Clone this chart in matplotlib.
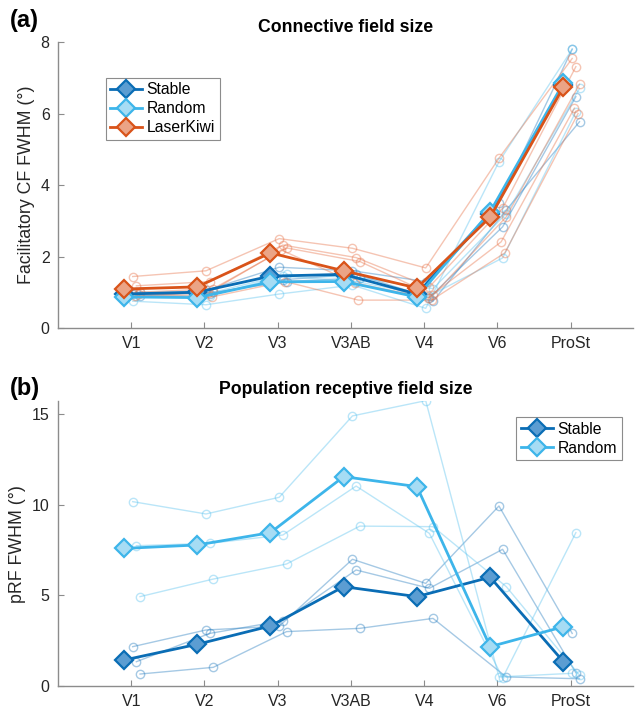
import matplotlib
matplotlib.use("Agg")
import matplotlib.pyplot as plt
import numpy as np

plt.rcParams['font.family'] = ['Liberation Sans', 'DejaVu Sans']

areas = ['V1', 'V2', 'V3', 'V3AB', 'V4', 'V6', 'ProSt']

# ---- Panel (a): connective field size (means) ----
cf_stable_mean = [0.95, 1.00, 1.45, 1.50, 0.95, 3.20, 6.80]
cf_random_mean = [0.87, 0.85, 1.29, 1.30, 0.87, 3.25, 6.85]
cf_laser_mean = [1.09, 1.15, 2.10, 1.60, 1.12, 3.10, 6.74]

# individual subjects (panel a)
cf_stable_subj = [
    [0.95, 1.05, 1.70, 1.60, 1.30, 3.50, 7.80],
    [1.00, 0.95, 1.35, 1.50, 0.85, 2.83, 6.47],
    [0.90, 1.00, 1.30, 1.40, 0.75, 3.30, 5.77],
]
cf_random_subj = [
    [0.75, 0.65, 0.95, 1.20, 0.55, 4.65, 7.80],
    [0.90, 0.90, 1.45, 1.30, 0.90, 1.96, 6.05],
    [1.00, 1.00, 1.50, 1.40, 1.10, 3.20, 6.70],
]
cf_laser_subj = [
    [1.44, 1.60, 2.50, 2.23, 1.68, 4.75, 7.54],
    [1.18, 1.30, 2.32, 1.97, 1.15, 3.35, 7.31],
    [1.00, 1.10, 2.24, 1.86, 0.92, 3.11, 6.82],
    [0.90, 0.98, 2.18, 1.26, 0.84, 2.41, 6.15],
    [0.95, 0.87, 1.30, 0.78, 0.78, 2.10, 6.00],
]

# ---- Panel (b): pRF size ----
prf_stable_mean = [1.43, 2.30, 3.31, 5.48, 4.93, 6.00, 1.34]
prf_random_mean = [7.59, 7.78, 8.46, 11.55, 11.00, 2.17, 3.27]
prf_stable_subj = [
    [2.17, 3.09, 3.30, 6.99, 5.66, 9.93, 2.90],
    [1.34, 2.90, 3.60, 6.40, 5.39, 7.54, 0.73],
    [0.66, 1.03, 3.00, 3.18, 3.73, 0.50, 0.40],
]
prf_random_subj = [
    [10.17, 9.49, 10.41, 14.90, 15.74, 0.50, 0.70],
    [7.74, 7.87, 8.33, 11.03, 8.42, 0.45, 8.46],
    [4.93, 5.90, 6.73, 8.82, 8.79, 5.48, 0.60],
]

# styles
C_STABLE = '#0a6db5'
F_STABLE = '#5b9dd2'
C_RANDOM = '#3db5ea'
F_RANDOM = '#a6dcf4'
C_LASER = '#d95319'
F_LASER = '#eba486'
SUBJ_STABLE = '#2a7fc0'
SUBJ_RANDOM = '#5cc3ef'
SUBJ_LASER = '#e8744a'
SPINE = '#8c8c8c'
TXT = '#262626'

x = np.arange(1, len(areas) + 1)
mean_off = -0.1
jit = [0.02, 0.07, 0.12, 0.05, 0.10]

W, H = 639, 710
fig = plt.figure(figsize=(W / 100, H / 100), dpi=100)

def px_axes(left, right, top, bottom):
    return fig.add_axes([left / W, 1 - bottom / H, (right - left) / W, (bottom - top) / H])

ax1 = px_axes(58, 633, 42, 328)
ax2 = px_axes(58, 633, 401.4, 686)

def style(ax):
    for s in ['top', 'right']:
        ax.spines[s].set_visible(False)
    for s in ['left', 'bottom']:
        ax.spines[s].set_color(SPINE)
        ax.spines[s].set_linewidth(1.0)
    ax.tick_params(direction='in', length=4, color=SPINE, labelsize=11.5,
                   labelcolor=TXT, width=0.8, pad=6)
    ax.set_xticks(x)
    ax.set_xticklabels(areas)
    ax.set_xlim(0, 7.85)

def draw_subj(ax, subj, color, alpha=0.42):
    for i, s in enumerate(subj):
        ax.plot(x + jit[i % len(jit)], s, '-o', color=color, lw=1.0, alpha=alpha,
                markersize=6, markerfacecolor='none', markeredgewidth=1.0)

def draw_mean(ax, m, edge, face, label):
    ax.plot(x + mean_off, m, '-D', color=edge, lw=2.0, markersize=9,
            markerfacecolor=face, markeredgecolor=edge, markeredgewidth=1.6,
            label=label, zorder=5)

def legend(ax, **kw):
    lg = ax.legend(borderaxespad=0, fontsize=11.3, frameon=True, fancybox=False,
                   framealpha=1, edgecolor=SPINE, handlelength=2.0,
                   handletextpad=0.3, borderpad=0.3, labelspacing=0.25,
                   numpoints=1, **kw)
    lg.get_frame().set_linewidth(0.8)
    return lg

# panel a
style(ax1)
draw_subj(ax1, cf_stable_subj, SUBJ_STABLE)
draw_subj(ax1, cf_random_subj, SUBJ_RANDOM)
draw_subj(ax1, cf_laser_subj, SUBJ_LASER)
draw_mean(ax1, cf_stable_mean, C_STABLE, F_STABLE, 'Stable')
draw_mean(ax1, cf_random_mean, C_RANDOM, F_RANDOM, 'Random')
draw_mean(ax1, cf_laser_mean, C_LASER, F_LASER, 'LaserKiwi')
ax1.set_ylim(0, 8)
ax1.set_yticks([0, 2, 4, 6, 8])
ax1.set_ylabel('Facilitatory CF FWHM (°)', fontsize=12.8, color=TXT, labelpad=4)
ax1.set_title('Connective field size', fontsize=12.7, fontweight='bold', pad=7)
legend(ax1, loc='upper left', bbox_to_anchor=(0.083, 0.875))

# panel b
style(ax2)
draw_subj(ax2, prf_stable_subj, SUBJ_STABLE)
draw_subj(ax2, prf_random_subj, SUBJ_RANDOM)
draw_mean(ax2, prf_stable_mean, C_STABLE, F_STABLE, 'Stable')
draw_mean(ax2, prf_random_mean, C_RANDOM, F_RANDOM, 'Random')
ax2.set_ylim(0, 15.7)
ax2.set_yticks([0, 5, 10, 15])
ax2.set_ylabel('pRF FWHM (°)', fontsize=12.8, color=TXT, labelpad=4)
ax2.set_title('Population receptive field size', fontsize=12.7, fontweight='bold', pad=5)
legend(ax2, loc='upper right', bbox_to_anchor=(0.98, 0.945))

fig.text(10 / W, 1 - 20 / H, '(a)', fontsize=17, fontweight='bold', va='center', ha='left')
fig.text(10 / W, 1 - 388 / H, '(b)', fontsize=17, fontweight='bold', va='center', ha='left')

fig.savefig('out.png', dpi=100)
